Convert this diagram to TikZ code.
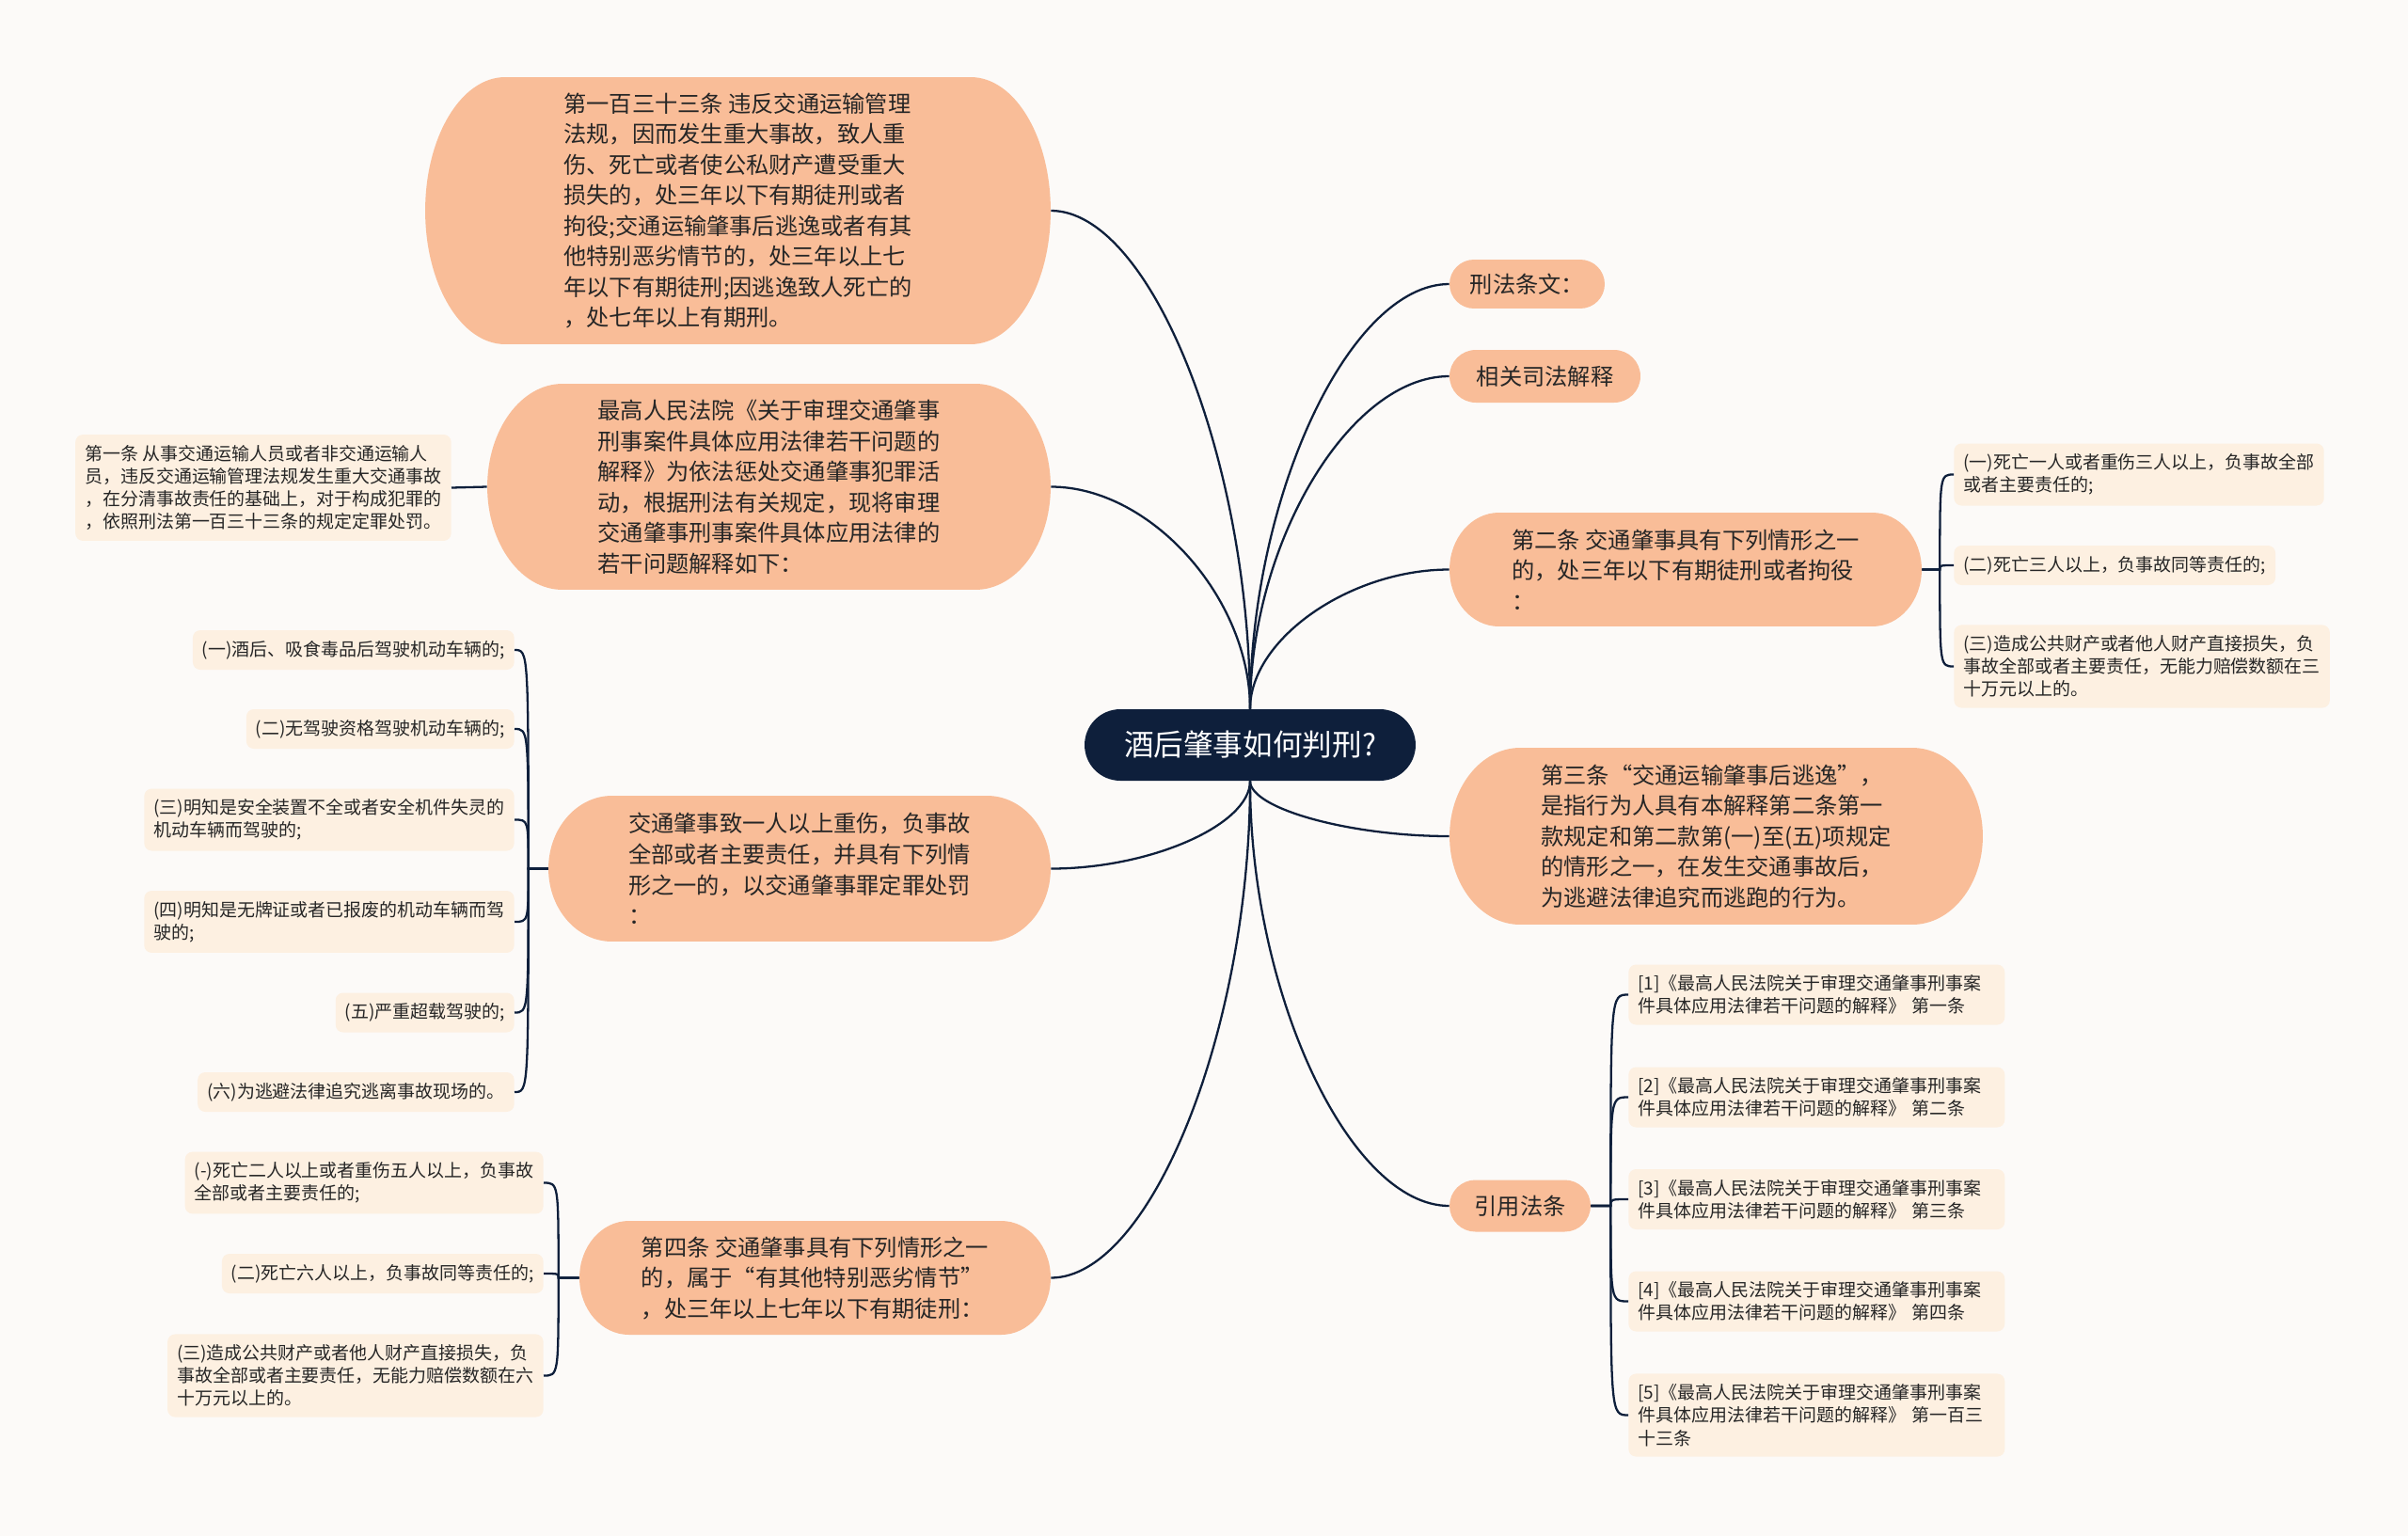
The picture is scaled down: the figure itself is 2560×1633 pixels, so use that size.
\documentclass[tikz,border=0pt]{standalone}
\usepackage{fontspec}
\setmainfont{Noto Sans CJK SC}
\usetikzlibrary{calc}

\definecolor{bgpaper}{HTML}{FCFAF8}
\definecolor{navy}{HTML}{0E1F3B}
\definecolor{salmon}{HTML}{F9BD98}
\definecolor{leafpeach}{HTML}{FDF0E1}
\definecolor{ink}{HTML}{262626}

\newcommand{\rootfont}{\fontsize{18}{22}\selectfont}
\newcommand{\topicfont}{\fontsize{13.8}{18.5}\selectfont}
\newcommand{\leaffont}{\fontsize{10.8}{13.8}\selectfont}

% curve from the centre node to a topic
\newcommand{\rootlink}[2]{\draw[link] (#1) .. controls ($(#1)!0.5!(#1 |- #2)$) and ($(#2)!0.5!(#1 |- #2)$) .. (#2);}

\tikzset{
  pill/.style 2 args={rectangle, inner sep=0pt, align=left,
    path picture={
      \fill[#1] let \p1=(path picture bounding box.south west),
                    \p2=(path picture bounding box.north east),
                    \n1={(\y2-\y1)/2} in
        (\x1+#2,\y1) -- (\x2-#2,\y1)
        arc[start angle=-90, end angle=90, x radius=#2, y radius=\n1]
        -- (\x1+#2,\y2)
        arc[start angle=90, end angle=270, x radius=#2, y radius=\n1] -- cycle;
    }},
  rootbox/.style={pill={navy}{0.76cm}, minimum width=7.04cm, minimum height=1.52cm,
    text=white, font=\rootfont},
  topic/.style={pill={salmon}{#1}, text=ink, font=\topicfont},
  leaf/.style={rectangle, fill=leafpeach, rounded corners=0.16cm, inner xsep=0.2cm,
    inner ysep=0.22cm, minimum height=0.84cm, align=left, text=ink, font=\leaffont},
  leafwide/.style={leaf, text width=7.6cm},
  link/.style={draw=navy, line width=1.3pt},
}

\begin{document}
\begin{tikzpicture}[x=0.02cm, y=-0.02cm]

 %%%%%%%%%% Fond %%%%%%%%%%
 \fill[bgpaper] (0,0) rectangle (2560,1633);
 \useasboundingbox (0,0) rectangle (2560,1633);

 %%%%%%%%%% Centre %%%%%%%%%%
 \node[rootbox] (root) at (1329,792) {酒后肇事如何判刑?};

 %%%%%%%%%% Gauche %%%%%%%%%%
 \node[topic=1.7cm, minimum width=13.3cm, minimum height=5.68cm] (t1) at (784.5,224)
   {第一百三十三条 违反交通运输管理\\法规，因而发生重大事故，致人重\\伤、死亡或者使公私财产遭受重大\\损失的，处三年以下有期徒刑或者\\拘役;交通运输肇事后逃逸或者有其\\他特别恶劣情节的，处三年以上七\\年以下有期徒刑;因逃逸致人死亡的\\，处七年以上有期刑。};
 \node[topic=1.6cm, minimum width=11.98cm, minimum height=4.38cm] (t2) at (817.5,517.5)
   {最高人民法院《关于审理交通肇事\\刑事案件具体应用法律若干问题的\\解释》为依法惩处交通肇事犯罪活\\动，根据刑法有关规定，现将审理\\交通肇事刑事案件具体应用法律的\\若干问题解释如下：};
 \node[topic=1.35cm, minimum width=10.68cm, minimum height=3.1cm] (t3) at (850,923.5)
   {交通肇事致一人以上重伤，负事故\\全部或者主要责任，并具有下列情\\形之一的，以交通肇事罪定罪处罚\\：};
 \node[topic=1.05cm, minimum width=10.02cm, minimum height=2.42cm] (t4) at (866.5,1358.5)
   {第四条 交通肇事具有下列情形之一\\的，属于“有其他特别恶劣情节”\\，处三年以上七年以下有期徒刑：};

 % Feuilles gauche
 \node[leaf, anchor=east] (l0) at (480,518.5)
   {第一条 从事交通运输人员或者非交通运输人\\员，违反交通运输管理法规发生重大交通事故\\，在分清事故责任的基础上，对于构成犯罪的\\，依照刑法第一百三十三条的规定定罪处罚。};

 \node[leaf, anchor=east] (a1) at (547,691) {(一)酒后、吸食毒品后驾驶机动车辆的;};
 \node[leaf, anchor=east] (a2) at (547,775) {(二)无驾驶资格驾驶机动车辆的;};
 \node[leaf, anchor=east] (a3) at (547,871.5) {(三)明知是安全装置不全或者安全机件失灵的\\机动车辆而驾驶的;};
 \node[leaf, anchor=east] (a4) at (547,980) {(四)明知是无牌证或者已报废的机动车辆而驾\\驶的;};
 \node[leaf, anchor=east] (a5) at (547,1076.5) {(五)严重超载驾驶的;};
 \node[leaf, anchor=east] (a6) at (547,1161) {(六)为逃避法律追究逃离事故现场的。};

 \node[leaf, anchor=east] (b1) at (578,1257.5) {(-)死亡二人以上或者重伤五人以上，负事故\\全部或者主要责任的;};
 \node[leaf, anchor=east] (b2) at (578,1354) {(二)死亡六人以上，负事故同等责任的;};
 \node[leaf, anchor=east] (b3) at (578,1462.5) {(三)造成公共财产或者他人财产直接损失，负\\事故全部或者主要责任，无能力赔偿数额在六\\十万元以上的。};

 %%%%%%%%%% Droite %%%%%%%%%%
 \node[topic=0.52cm, minimum width=3.3cm, minimum height=1.04cm] (ra) at (1623.5,302) {刑法条文：};
 \node[topic=0.56cm, minimum width=4.06cm, minimum height=1.12cm] (rb) at (1642.5,400) {相关司法解释};
 \node[topic=1.05cm, minimum width=10.04cm, minimum height=2.42cm] (rc) at (1792,605.5)
   {第二条 交通肇事具有下列情形之一\\的，处三年以下有期徒刑或者拘役\\：};
 \node[topic=1.5cm, minimum width=11.34cm, minimum height=3.76cm] (rd) at (1824.5,889)
   {第三条“交通运输肇事后逃逸”，\\是指行为人具有本解释第二条第一\\款规定和第二款第(一)至(五)项规定\\的情形之一，在发生交通事故后，\\为逃避法律追究而逃跑的行为。};
 \node[topic=0.55cm, minimum width=3.0cm, minimum height=1.1cm] (re) at (1616,1282) {引用法条};

 % Feuilles droite
 \node[leaf, anchor=west] (r1) at (2077,504.5) {(一)死亡一人或者重伤三人以上，负事故全部\\或者主要责任的;};
 \node[leaf, anchor=west] (r2) at (2077,601) {(二)死亡三人以上，负事故同等责任的;};
 \node[leaf, anchor=west] (r3) at (2077,708.5) {(三)造成公共财产或者他人财产直接损失，负\\事故全部或者主要责任，无能力赔偿数额在三\\十万元以上的。};

 \node[leafwide, anchor=west] (c1) at (1731,1057.5) {[1]《最高人民法院关于审理交通肇事刑事案\\件具体应用法律若干问题的解释》 第一条};
 \node[leafwide, anchor=west] (c2) at (1731,1166.5) {[2]《最高人民法院关于审理交通肇事刑事案\\件具体应用法律若干问题的解释》 第二条};
 \node[leafwide, anchor=west] (c3) at (1731,1275) {[3]《最高人民法院关于审理交通肇事刑事案\\件具体应用法律若干问题的解释》 第三条};
 \node[leafwide, anchor=west] (c4) at (1731,1383.5) {[4]《最高人民法院关于审理交通肇事刑事案\\件具体应用法律若干问题的解释》 第四条};
 \node[leafwide, anchor=west] (c5) at (1731,1504.5) {[5]《最高人民法院关于审理交通肇事刑事案\\件具体应用法律若干问题的解释》 第一百三\\十三条};

 %%%%%%%%%% Liens %%%%%%%%%%
 \rootlink{root.north}{t1.east}
 \rootlink{root.north}{t2.east}
 \rootlink{root.north}{ra.west}
 \rootlink{root.north}{rb.west}
 \rootlink{root.north}{rc.west}
 \rootlink{root.south}{t3.east}
 \rootlink{root.south}{t4.east}
 \rootlink{root.south}{rd.west}
 \rootlink{root.south}{re.west}

 \draw[link] (t2.west) -- (l0.east);

 \coordinate (jA) at ([xshift=-0.42cm]t3.west);
 \coordinate (jB) at ([xshift=-0.44cm]t4.west);
 \coordinate (jR) at ([xshift=0.38cm]rc.east);
 \coordinate (jC) at ([xshift=0.42cm]re.east);

 \foreach \c in {a1,a2,a3,a4,a5,a6}
   \draw[link] (t3.west) -- (jA) .. controls (jA |- \c.east) and (jA |- \c.east) .. (\c.east);
 \foreach \c in {b1,b2,b3}
   \draw[link] (t4.west) -- (jB) .. controls (jB |- \c.east) and (jB |- \c.east) .. (\c.east);
 \foreach \c in {r1,r2,r3}
   \draw[link] (rc.east) -- (jR) .. controls (jR |- \c.west) and (jR |- \c.west) .. (\c.west);
 \foreach \c in {c1,c2,c3,c4,c5}
   \draw[link] (re.east) -- (jC) .. controls (jC |- \c.west) and (jC |- \c.west) .. (\c.west);

\end{tikzpicture}
\end{document}
